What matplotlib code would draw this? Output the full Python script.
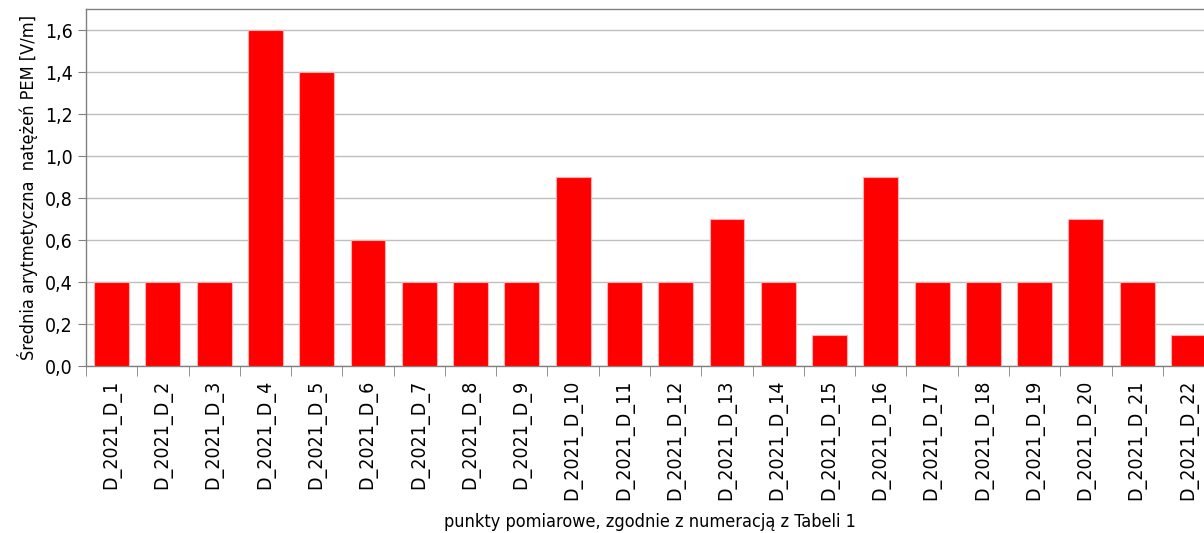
import matplotlib
matplotlib.use('Agg')
import matplotlib.pyplot as plt
from matplotlib import font_manager
from matplotlib.ticker import FuncFormatter, FixedLocator
import numpy as np

# the original uses Arial Narrow; take a narrow face if one is installed
names = {f.name for f in font_manager.fontManager.ttflist}
condensed = {f.name for f in font_manager.fontManager.ttflist if 'ondensed' in f.fname or 'Narrow' in f.fname}
if 'Liberation Sans Narrow' in names:
    plt.rcParams['font.family'] = ['Liberation Sans Narrow', 'DejaVu Sans']
elif 'DejaVu Sans' in condensed:
    plt.rcParams['font.family'] = ['DejaVu Sans']
    plt.rcParams['font.stretch'] = 'condensed'
else:
    plt.rcParams['font.family'] = ['Liberation Sans', 'DejaVu Sans']

categories = [f'D_2021_D_{i}' for i in range(1, 23)]
values = [0.4, 0.4, 0.4, 1.6, 1.4, 0.6, 0.4, 0.4, 0.4, 0.9, 0.4,
          0.4, 0.7, 0.4, 0.15, 0.9, 0.4, 0.4, 0.4, 0.7, 0.4, 0.15]
y_label = 'Średnia arytmetyczna  natężeń PEM [V/m]'
x_label = 'punkty pomiarowe, zgodnie z numeracją z Tabeli 1'

fig = plt.figure(figsize=(12.04, 5.33), dpi=100)
ax = fig.add_axes([0.0714, 0.3133, 0.937, 0.6697])

x = np.arange(len(categories))
ax.bar(x, values, width=0.68, color='#ff0000', edgecolor='#ffb0b0', linewidth=0.8, zorder=3)

ax.set_xlim(-0.5, len(categories) - 0.5)
ax.set_ylim(0, 1.7)
ax.yaxis.set_major_locator(FixedLocator(np.arange(0, 1.61, 0.2)))
ax.yaxis.set_major_formatter(FuncFormatter(lambda v, p: f'{v:.1f}'.replace('.', ',')))
ax.grid(axis='y', color='#bfbfbf', linewidth=1.0, zorder=0)

# category labels centred, ticks on the boundaries
ax.set_xticks(x)
ax.set_xticklabels(categories, rotation=90, fontsize=14)
ax.tick_params(axis='x', length=0, pad=10)
ax.set_xticks(np.arange(-0.5, len(categories)), minor=True)
ax.tick_params(axis='x', which='minor', length=7, color='#808080', direction='out')
ax.tick_params(axis='y', labelsize=14, length=6, color='#808080', direction='out')

for s in ax.spines.values():
    s.set_color('#808080')
    s.set_linewidth(1.0)

ax.set_ylabel(y_label, fontsize=13, labelpad=5)
ax.set_xlabel(x_label, fontsize=13, labelpad=9)

fig.savefig('out.png', dpi=100)
